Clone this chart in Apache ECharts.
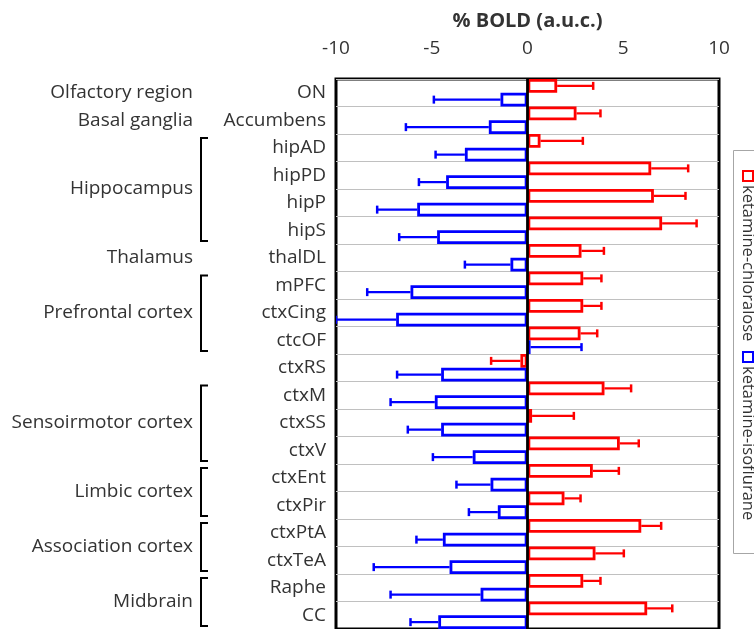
<!DOCTYPE html>
<html lang="en">
<head>
<meta charset="UTF-8">
<script src="https://cdn.jsdelivr.net/npm/echarts@6/dist/echarts.min.js"></script>
<style>html,body{margin:0;background:#fff;}</style>
</head>
<body>
<div id="main" style="width:754px;height:629px;"></div>
<script type="text/javascript">
    var regions = ['ON', 'Accumbens', 'hipAD', 'hipPD', 'hipP', 'hipS', 'thalDL', 'mPFC', 'ctxCing', 'ctcOF',
        'ctxRS', 'ctxM', 'ctxSS', 'ctxV', 'ctxEnt', 'ctxPir', 'ctxPtA', 'ctxTeA', 'Raphe', 'CC'];
    var seriesNames = ['ketamine-chloralose', 'ketamine-isoflurane'];
    var chloralose = [1.55, 2.56, 0.68, 6.46, 6.60, 7.03, 2.82, 2.91, 2.91, 2.77,
        -0.37, 4.02, 0.24, 4.82, 3.41, 1.93, 5.94, 3.55, 2.91, 6.25];
    var chloraloseErr = [1.88, 1.25, 2.21, 1.93, 1.65, 1.80, 1.17, 0.95, 0.95, 0.87,
        1.53, 1.39, 2.18, 0.99, 1.36, 0.84, 1.04, 1.48, 0.90, 1.31];
    var isoflurane = [-1.41, -2.02, -3.27, -4.25, -5.76, -4.72, -0.89, -6.11, -6.86, 0.16,
        -4.51, -4.84, -4.51, -2.86, -1.93, -1.55, -4.42, -4.07, -2.45, -4.66];
    var isofluraneErr = [3.48, 4.33, 1.53, 1.42, 2.09, 1.98, 2.38, 2.26, 3.14, 2.66,
        2.30, 2.31, 1.74, 2.08, 1.78, 1.51, 1.38, 3.96, 4.70, 1.45];
    // brain area groups (first and last row index)
    var groupNames = ['Olfactory region', 'Basal ganglia', 'Hippocampus', 'Thalamus', 'Prefrontal cortex',
        'Sensoirmotor cortex', 'Limbic cortex', 'Association cortex', 'Midbrain'];
    var groupStart = [0, 1, 2, 6, 7, 11, 14, 16, 18];
    var groupEnd = [0, 1, 5, 6, 9, 13, 15, 17, 19];

    var FONT = '"Open Sans", sans-serif';
    var TXT = '#333';

    var myChart = echarts.init(document.getElementById('main'));

    // one-sided error bar, drawn away from zero
    function errorSeries(name, vals, errs, color, shift) {
        return {
            type: 'custom',
            name: name,
            silent: true,
            clip: true,
            z: 4,
            data: vals.map(function (v, i) {
                return [v, i, v + (v < 0 ? -errs[i] : errs[i])];
            }),
            encode: {x: [0, 2], y: 1},
            renderItem: function (params, api) {
                var band = api.size([0, 1])[1];
                var a = api.coord([api.value(0), api.value(1)]);
                var b = api.coord([api.value(2), api.value(1)]);
                var y = a[1] + shift * band;
                return {
                    type: 'group',
                    children: [
                        {type: 'line', shape: {x1: a[0], y1: y, x2: b[0], y2: y},
                            style: {stroke: color, lineWidth: 2.2}},
                        {type: 'line', shape: {x1: b[0], y1: y - 4, x2: b[0], y2: y + 4},
                            style: {stroke: color, lineWidth: 2.5}}
                    ]
                };
            }
        };
    }

    var option = {
        animation: false,
        grid: {
            left: 336, top: 79, right: 35, height: 551,
            show: true, borderColor: '#000', borderWidth: 3, backgroundColor: 'transparent'
        },
        xAxis: {
            type: 'value',
            position: 'top',
            min: -10, max: 10, interval: 5,
            name: '% BOLD (a.u.c.)',
            nameLocation: 'middle',
            nameGap: 48,
            nameTextStyle: {fontFamily: FONT, fontSize: 20, fontWeight: 'bold', color: TXT},
            axisLine: {lineStyle: {color: '#000', width: 3}},
            axisTick: {length: 5, lineStyle: {color: '#000', width: 2}},
            axisLabel: {fontFamily: FONT, fontSize: 19, color: TXT, margin: 21},
            splitLine: {show: false}
        },
        yAxis: {
            type: 'category',
            data: regions,
            inverse: true,
            axisLine: {show: false},
            axisTick: {show: false},
            axisLabel: {fontFamily: FONT, fontSize: 19, color: TXT, margin: 10},
            splitLine: {show: true, lineStyle: {color: '#c0c0c0', width: 1}}
        },
        series: [
            {
                name: seriesNames[0],
                type: 'bar',
                data: chloralose,
                barGap: '0%',
                barCategoryGap: '0%',
                itemStyle: {color: '#fff', borderColor: '#ff0000', borderWidth: 2.8},
                markLine: {
                    silent: true,
                    symbol: ['none', 'none'],
                    label: {show: false},
                    lineStyle: {color: '#000', width: 2.8, type: 'solid'},
                    data: [{xAxis: 0}]
                }
            },
            {
                name: seriesNames[1],
                type: 'bar',
                data: isoflurane,
                barGap: '0%',
                barCategoryGap: '0%',
                itemStyle: {color: '#fff', borderColor: '#0000ff', borderWidth: 2.8}
            },
            errorSeries('err1', chloralose, chloraloseErr, '#ff0000', -0.25),
            errorSeries('err2', isoflurane, isofluraneErr, '#0000ff', 0.25),
            {
                // group names with brackets on the left
                type: 'custom',
                silent: true,
                clip: false,
                data: groupNames.map(function (n, i) {
                    return [-10, groupStart[i], groupEnd[i]];
                }),
                encode: {x: 0, y: [1, 2]},
                renderItem: function (params, api) {
                    var band = api.size([0, 1])[1];
                    var top = api.coord([-10, api.value(1)]);
                    var bot = api.coord([-10, api.value(2)]);
                    var y0 = top[1] - band / 2 + 4, y1 = bot[1] + band / 2 - 3;
                    var kids = [{
                        type: 'text',
                        style: {
                            text: groupNames[params.dataIndex],
                            x: top[0] - 143, y: (top[1] + bot[1]) / 2,
                            align: 'right', verticalAlign: 'middle',
                            font: '19px ' + FONT, fill: TXT
                        }
                    }];
                    if (api.value(2) > api.value(1)) {
                        var bx = top[0] - 135;
                        kids.push({
                            type: 'polyline',
                            shape: {points: [[bx + 7, y0], [bx, y0], [bx, y1], [bx + 7, y1]]},
                            style: {stroke: '#000', lineWidth: 2, fill: null}
                        });
                    }
                    return {type: 'group', children: kids};
                }
            }
        ],
        graphic: [
            {type: 'rect', shape: {x: 733.5, y: 150.5, width: 40, height: 403},
                style: {fill: '#fff', stroke: '#a6a6a6', lineWidth: 1}},
            {
                type: 'group', x: 748, y: 171, rotation: -Math.PI / 2,
                children: [
                    {type: 'rect', shape: {x: 0, y: -5, width: 10, height: 10},
                        style: {fill: '#fff', stroke: '#ff0000', lineWidth: 2}},
                    {type: 'text', style: {text: seriesNames[0], x: 14, y: 0, verticalAlign: 'middle',
                        font: '16.5px ' + FONT, fill: TXT}},
                    {type: 'rect', shape: {x: 181, y: -5, width: 10, height: 10},
                        style: {fill: '#fff', stroke: '#0000ff', lineWidth: 2}},
                    {type: 'text', style: {text: seriesNames[1], x: 195, y: 0, verticalAlign: 'middle',
                        font: '16.5px ' + FONT, fill: TXT}}
                ]
            }
        ]
    };

    myChart.setOption(option);
</script>
</body>
</html>
